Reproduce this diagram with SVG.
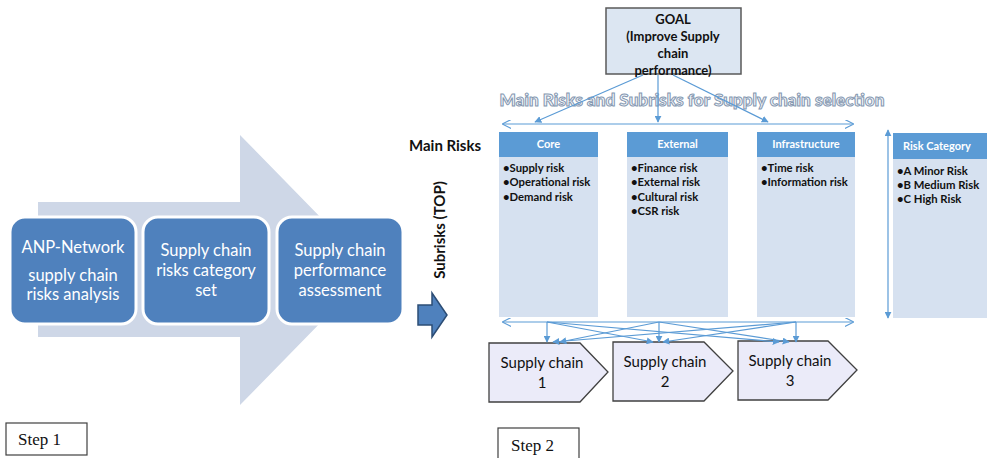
<svg xmlns="http://www.w3.org/2000/svg" width="987" height="458" viewBox="0 0 987 458">
<defs>
<style>
.step{fill:#4f81bd;stroke:#ffffff;stroke-width:3}
.stxt{font-family:Lato,"Liberation Sans",sans-serif;font-size:16.5px;fill:#ffffff;text-anchor:middle}
.goal{fill:#dce6f2;stroke:#595959;stroke-width:1.5}
.gtxt{font-family:Lato,"Liberation Sans",sans-serif;font-size:13px;font-weight:bold;fill:#111;text-anchor:middle}
.hdr{fill:#5b9bd5}
.body{fill:#d6e1f0}
.htxt{font-family:Lato,"Liberation Sans",sans-serif;font-size:11px;font-weight:bold;fill:#ffffff;text-anchor:middle}
.itxt{font-family:Lato,"Liberation Sans",sans-serif;font-size:11.3px;font-weight:bold;fill:#111}
.lbl{font-family:Lato,"Liberation Sans",sans-serif;font-size:15px;font-weight:bold;fill:#111}
.conn{stroke:#5b9bd5;stroke-width:1.2;fill:none}
.sc{fill:#ebebf9;stroke:#404040;stroke-width:1.3}
.sctxt{font-family:Lato,"Liberation Sans",sans-serif;font-size:15px;fill:#111;text-anchor:middle}
.stepbox{fill:#ffffff;stroke:#404040;stroke-width:1.2}
.steptxt{font-family:"Liberation Serif",serif;font-size:17px;fill:#111}
</style>
<marker id="fa" viewBox="0 0 10 10" refX="9" refY="5" markerWidth="7" markerHeight="7" orient="auto-start-reverse" markerUnits="userSpaceOnUse">
<path d="M0,0 L10,5 L0,10 z" fill="#5b9bd5"/>
</marker>
<marker id="oa" viewBox="0 0 10 10" refX="9" refY="5" markerWidth="9" markerHeight="9" orient="auto-start-reverse" markerUnits="userSpaceOnUse">
<path d="M0,0 L10,5 L0,10" fill="none" stroke="#5b9bd5" stroke-width="1.2"/>
</marker>
</defs>
<rect width="987" height="458" fill="#ffffff"/>

<g id="big-arrow">
<polygon points="38,202 240,202 240,135 372,270 240,405 240,337 38,337" fill="#ced7e7"/>
</g>
<g id="step-anp">
<rect class="step" x="10" y="217" width="126" height="107" rx="15"/>
<text class="stxt" x="73" y="253">ANP-Network</text>
<text class="stxt" x="73" y="281">supply chain</text>
<text class="stxt" x="73" y="300">risks analysis</text>
</g>
<g id="step-category">
<rect class="step" x="143" y="217" width="126" height="107" rx="15"/>
<text class="stxt" x="206" y="256">Supply chain</text>
<text class="stxt" x="206" y="276">risks category</text>
<text class="stxt" x="206" y="296">set</text>
</g>
<g id="step-assessment">
<rect class="step" x="277" y="217" width="126" height="107" rx="15"/>
<text class="stxt" x="340" y="256">Supply chain</text>
<text class="stxt" x="340" y="276">performance</text>
<text class="stxt" x="340" y="296">assessment</text>
</g>
<g id="small-arrow">
<polygon points="418,305 432,305 432,293 447,315 432,337 432,325 418,325" fill="#4f81bd" stroke="#2c4d75" stroke-width="1.5" stroke-linejoin="miter"/>
</g>

<g id="goal">
<rect class="goal" x="606" y="8" width="135" height="66"/>
<text class="gtxt" x="673" y="24">GOAL</text>
<text class="gtxt" x="673" y="41">(Improve Supply</text>
<text class="gtxt" x="673" y="58">chain</text>
<text class="gtxt" x="673" y="75">performance)</text>
</g>
<g id="title">
<text x="692" y="106" font-family="Lato,'Liberation Sans',sans-serif" font-size="17px" font-weight="900" fill="#f4f6fa" stroke="#8497b0" stroke-width="1" text-anchor="middle" textLength="385" lengthAdjust="spacingAndGlyphs">Main Risks and Subrisks for Supply chain selection</text>
</g>
<g id="label-main">
<text class="lbl" x="409" y="151">Main Risks</text>
</g>
<g id="label-sub">
<text class="lbl" font-size="14px" transform="translate(445,230) rotate(-90)" text-anchor="middle">Subrisks (TOP)</text>
</g>

<g id="core">
<rect class="body" x="499" y="132" width="99" height="185"/>
<rect class="hdr" x="499" y="132" width="99" height="25"/>
<text class="htxt" x="548.5" y="148">Core</text>
<text class="itxt" x="503" y="172">•Supply risk</text>
<text class="itxt" x="503" y="186">•Operational risk</text>
<text class="itxt" x="503" y="201">•Demand risk</text>
</g>
<g id="external">
<rect class="body" x="627" y="132" width="101" height="185"/>
<rect class="hdr" x="627" y="132" width="101" height="25"/>
<text class="htxt" x="677.5" y="148">External</text>
<text class="itxt" x="631" y="172">•Finance risk</text>
<text class="itxt" x="631" y="186">•External risk</text>
<text class="itxt" x="631" y="201">•Cultural risk</text>
<text class="itxt" x="631" y="215">•CSR risk</text>
</g>
<g id="infrastructure">
<rect class="body" x="757" y="132" width="98" height="185"/>
<rect class="hdr" x="757" y="132" width="98" height="25"/>
<text class="htxt" x="806" y="148">Infrastructure</text>
<text class="itxt" x="761" y="172">•Time risk</text>
<text class="itxt" x="761" y="186">•Information risk</text>
</g>
<g id="risk-category">
<rect class="body" x="893" y="133" width="100" height="185"/>
<rect class="hdr" x="893" y="133" width="100" height="26"/>
<text class="htxt" x="937" y="150">Risk Category</text>
<text class="itxt" x="897" y="175">•A Minor Risk</text>
<text class="itxt" x="897" y="189">•B Medium Risk</text>
<text class="itxt" x="897" y="203">•C High Risk</text>
</g>

<g id="sc1">
<polygon class="sc" points="489,343 580,343 608,372 580,402 489,402"/>
<text class="sctxt" x="542" y="368">Supply chain</text>
<text class="sctxt" x="542" y="388">1</text>
</g>
<g id="sc2">
<polygon class="sc" points="613,342 704,342 733,371 704,401 613,401"/>
<text class="sctxt" x="665" y="367">Supply chain</text>
<text class="sctxt" x="665" y="387">2</text>
</g>
<g id="sc3">
<polygon class="sc" points="738,341 828,341 857,370 828,400 738,400"/>
<text class="sctxt" x="790" y="366">Supply chain</text>
<text class="sctxt" x="790" y="386">3</text>
</g>

<g id="connectors">
<line class="conn" x1="643" y1="75" x2="535" y2="122" marker-end="url(#fa)"/>
<line class="conn" x1="658" y1="75" x2="658" y2="122" marker-end="url(#fa)"/>
<line class="conn" x1="673" y1="75" x2="768" y2="122" marker-end="url(#fa)"/>
<line class="conn" x1="503" y1="124" x2="853" y2="124" marker-start="url(#oa)" marker-end="url(#oa)"/>
<line class="conn" x1="888" y1="130" x2="888" y2="318" marker-start="url(#fa)" marker-end="url(#fa)"/>
<line class="conn" x1="503" y1="322" x2="853" y2="322" marker-start="url(#oa)" marker-end="url(#oa)"/>
<line class="conn" x1="547" y1="322" x2="547" y2="342" marker-end="url(#fa)"/>
<line class="conn" x1="547" y1="322" x2="653" y2="342" marker-end="url(#fa)"/>
<line class="conn" x1="547" y1="322" x2="779" y2="342" marker-end="url(#fa)"/>
<line class="conn" x1="659" y1="322" x2="659" y2="342" marker-end="url(#fa)"/>
<line class="conn" x1="659" y1="322" x2="560" y2="342" marker-end="url(#fa)"/>
<line class="conn" x1="659" y1="322" x2="789" y2="342" marker-end="url(#fa)"/>
<line class="conn" x1="796" y1="322" x2="796" y2="342" marker-end="url(#fa)"/>
<line class="conn" x1="796" y1="322" x2="553" y2="342" marker-end="url(#fa)"/>
<line class="conn" x1="796" y1="322" x2="663" y2="342" marker-end="url(#fa)"/>
</g>

<g id="step1">
<rect class="stepbox" x="6" y="423" width="81" height="32"/>
<text class="steptxt" x="18" y="445">Step 1</text>
</g>
<g id="step2">
<rect class="stepbox" x="498" y="428" width="81" height="34"/>
<text class="steptxt" x="511" y="451">Step 2</text>
</g>
</svg>
